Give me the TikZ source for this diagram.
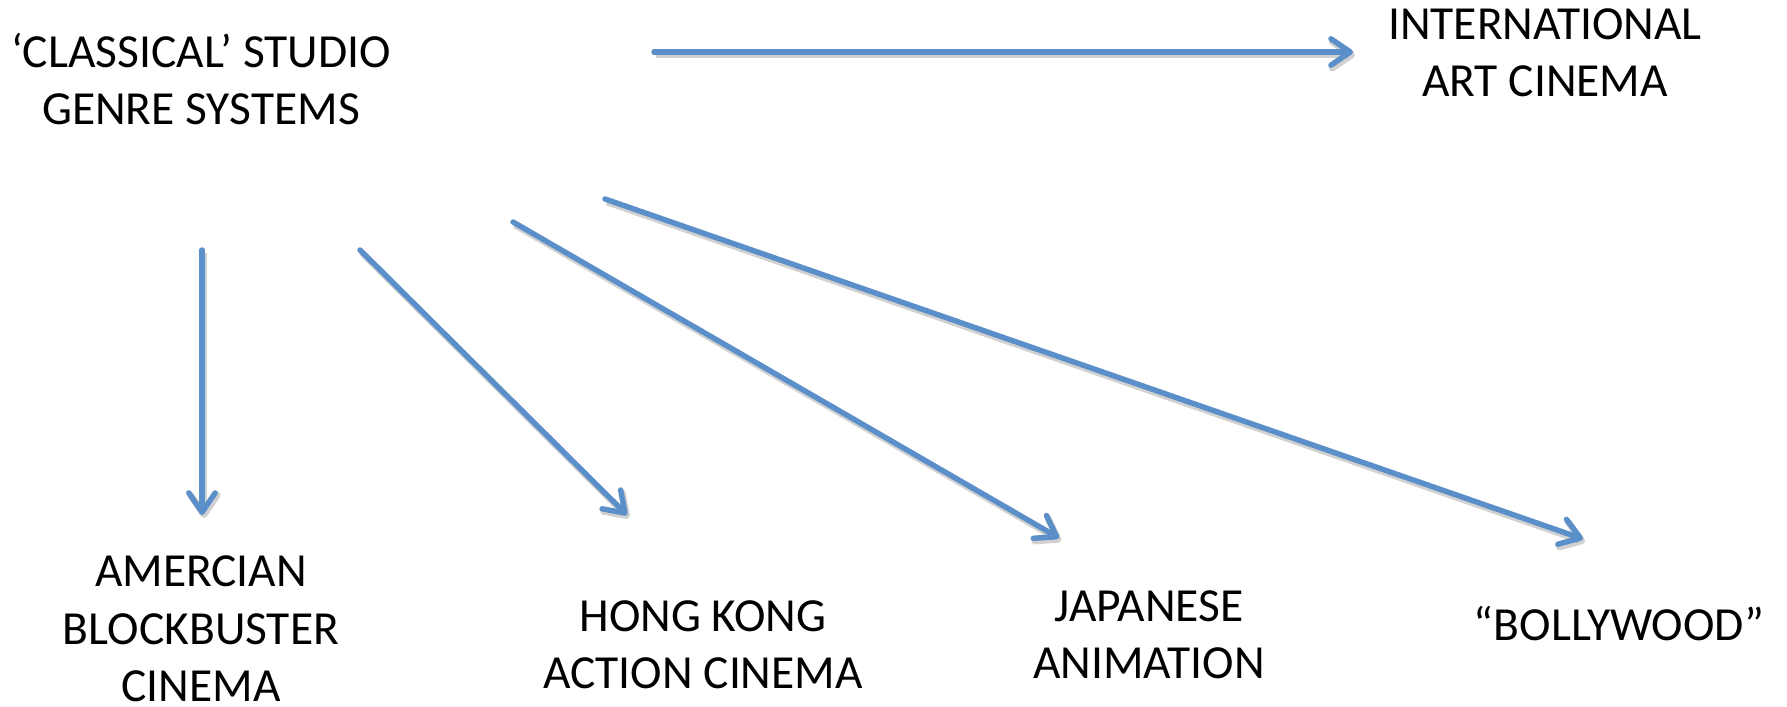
\documentclass[tikz,border=0pt]{standalone}
\usepackage{fontspec}
\setmainfont{Carlito}
\usetikzlibrary{arrows.meta}
\definecolor{arrowblue}{HTML}{5B8FC9}
\tikzset{
  label/.style={align=center, inner sep=0pt, anchor=base,
    font=\fontsize{13.5}{16.3}\selectfont},
  link/.style={draw=arrowblue, line width=1.55pt, line cap=round,
    -{Straight Barb[length=5.5pt, width=7.5pt, line cap=round, round]},
    preaction={draw=black, opacity=0.18, line width=1.9pt,
      transform canvas={shift={(0.02cm,-0.03cm)}}}}
}
\begin{document}
\begin{tikzpicture}[x=0.01cm, y=-0.01cm]
\useasboundingbox[fill=white] (0,0) rectangle (1787,707);
% labels (anchor base = baseline of the last line)
\node[label] (classical) at (201,124.5) {‘CLASSICAL’ STUDIO\\GENRE SYSTEMS};
\node[label] (intl) at (1545,96.5) {INTERNATIONAL\\ART CINEMA};
\node[label] (american) at (201,701.5) {AMERCIAN\\BLOCKBUSTER\\CINEMA};
\node[label] (hongkong) at (703,688.5) {HONG KONG\\ACTION CINEMA};
\node[label] (japanese) at (1149,678.5) {JAPANESE\\ANIMATION};
\node[label] (bollywood) at (1619,641) {“BOLLYWOOD”};
% connector ends
\coordinate (s0) at (654,52);  \coordinate (e0) at (1353,52);
\coordinate (s1) at (202,250); \coordinate (e1) at (202,515);
\coordinate (s2) at (360,250); \coordinate (e2) at (627,515);
\coordinate (s3) at (513,222); \coordinate (e3) at (1059,538);
\coordinate (s4) at (605,199); \coordinate (e4) at (1583,539);
% connectors
\draw[link] (s0) -- (e0);
\draw[link] (s1) -- (e1);
\draw[link] (s2) -- (e2);
\draw[link] (s3) -- (e3);
\draw[link] (s4) -- (e4);
\end{tikzpicture}
\end{document}
